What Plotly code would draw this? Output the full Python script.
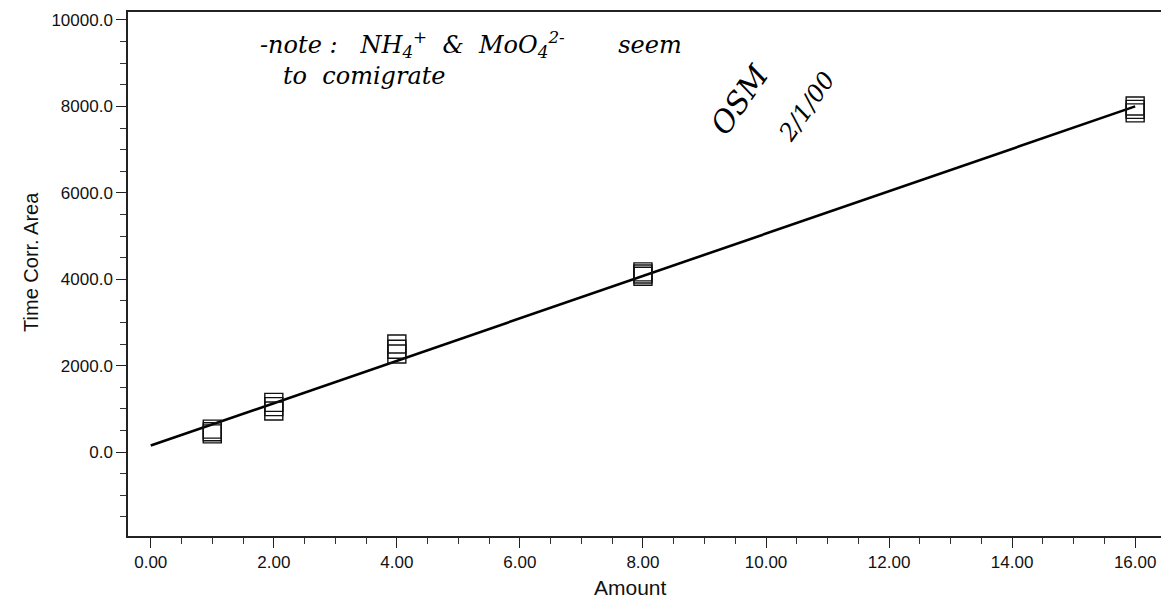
import numpy as np
import plotly.graph_objects as go

# Calibration standards (amount) and replicate time-corrected peak areas
amount = [1, 2, 4, 8, 16]
area_rep1 = [420, 950, 2270, 4070, 7850]
area_rep2 = [470, 1050, 2380, 4120, 7930]
area_rep3 = [530, 1150, 2500, 4170, 8010]

x_ticks = [0, 2, 4, 6, 8, 10, 12, 14, 16]
y_ticks = [0, 2000, 4000, 6000, 8000, 10000]

# Least-squares calibration line through all replicates
xs = np.array(amount * 3, dtype=float)
ys = np.array(area_rep1 + area_rep2 + area_rep3, dtype=float)
slope, intercept = np.polyfit(xs, ys, 1)
fit_x = np.array([0.0, 16.0])
fit_y = intercept + slope * fit_x

fig = go.Figure()

fig.add_trace(go.Scatter(
    x=fit_x, y=fit_y, mode="lines",
    line=dict(color="black", width=2.6),
    showlegend=False, hoverinfo="skip",
))

for reps in (area_rep1, area_rep2, area_rep3):
    fig.add_trace(go.Scatter(
        x=amount, y=reps, mode="markers",
        marker=dict(symbol="square-open", size=18, color="#111",
                    line=dict(width=1.4, color="#111")),
        showlegend=False,
    ))

font_main = "Liberation Sans, Arial, sans-serif"
hand = dict(family="DejaVu Serif", style="italic", color="#000")
nb = "&nbsp;"

note = (f"-note{nb}:{nb}{nb}{nb}NH<sub>4</sub><sup>+</sup>{nb}{nb}&{nb}{nb}"
        f"MoO<sub>4</sub><sup>2-</sup>{nb}{nb}{nb}{nb}{nb}{nb}{nb}seem"
        f"<br>{nb}{nb}{nb}to{nb}{nb}comigrate")

fig.update_layout(
    width=1161, height=601,
    margin=dict(l=128, r=0, t=12, b=65),
    paper_bgcolor="white", plot_bgcolor="white",
    font=dict(family=font_main, size=17, color="#111"),
    xaxis=dict(
        range=[-0.37, 16.42], showgrid=False, zeroline=False,
        showline=True, linecolor="#222", linewidth=1.5, mirror=True,
        tickvals=x_ticks, ticktext=[f"{v:.2f}" for v in x_ticks],
        ticks="outside", ticklen=10, tickwidth=1.2, tickcolor="#222",
        minor=dict(dtick=0.5, tick0=0, ticks="outside", ticklen=6,
                   tickwidth=1, tickcolor="#333"),
        tickfont=dict(size=17), fixedrange=True,
    ),
    yaxis=dict(
        range=[-1944, 10185], showgrid=False, zeroline=False,
        showline=True, linecolor="#222", linewidth=1.5,
        tickvals=y_ticks, ticktext=[f"{v:.1f}" for v in y_ticks],
        ticks="outside", ticklen=10, tickwidth=1.2, tickcolor="#222",
        minor=dict(dtick=500, tick0=0, ticks="outside", ticklen=6,
                   tickwidth=1, tickcolor="#333"),
        tickfont=dict(size=17), fixedrange=True,
    ),
    annotations=[
        dict(text="Time Corr. Area", xref="paper", yref="paper",
             x=-0.1065, y=0.523, textangle=-90, showarrow=False,
             font=dict(size=20, family=font_main)),
        dict(text="Amount", xref="paper", yref="paper",
             x=0.486, y=-0.099, yanchor="middle", showarrow=False,
             font=dict(size=21, family=font_main)),
        # handwritten note on the chart
        dict(text=note, xref="paper", yref="paper", x=0.126, y=0.975,
             xanchor="left", yanchor="top", align="left", showarrow=False,
             font=dict(size=24, **hand)),
        dict(text="OSM", xref="paper", yref="paper",
             x=0.592, y=0.918, textangle=-55, showarrow=False,
             font=dict(size=30, **hand)),
        dict(text="2/1/00", xref="paper", yref="paper",
             x=0.657, y=0.9, textangle=-55, showarrow=False,
             font=dict(size=24, **hand)),
    ],
)

fig.write_html("out.html")
